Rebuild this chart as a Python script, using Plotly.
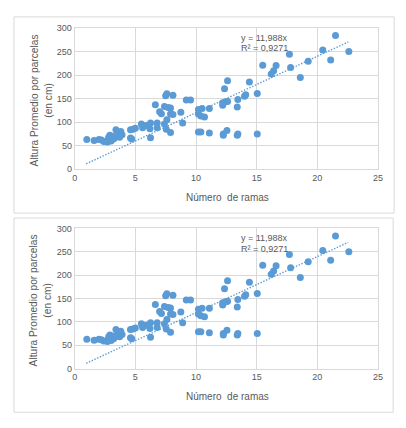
import plotly.graph_objs as go

# datos (numero de ramas vs altura promedio)
ramas = [1.0, 1.6, 2.0, 2.2, 2.4, 2.7, 2.8, 2.8, 2.9, 3.0, 3.0, 3.1, 3.2, 3.3,
         3.4, 3.5, 3.6, 3.7, 3.8, 3.9, 4.6, 4.7, 4.6, 4.8, 5.0, 5.5, 5.6, 5.9,
         6.2, 6.25, 6.25, 6.65, 6.8, 6.8, 7.0, 7.15, 7.4, 7.4, 7.5, 7.6, 7.6,
         7.55, 7.7, 7.9, 7.9, 7.9, 8.1, 8.1, 8.75, 8.9, 9.2, 9.55, 10.2, 10.2,
         10.2, 10.4, 10.4, 10.5, 10.7, 11.1, 11.1, 12.2, 12.2, 12.25, 12.25,
         12.35, 12.45, 12.55, 12.6, 12.6, 13.4, 13.4, 13.45, 13.45, 14.0, 14.1,
         14.4, 15.05, 15.05, 15.5, 16.2, 16.4, 16.6, 17.7, 17.8, 18.6, 19.25,
         20.45, 21.1, 21.5, 22.6]
altura = [63, 61, 63, 62, 59, 58, 63, 68, 72, 66, 60, 70, 64, 67,
          84, 72, 76, 68, 80, 73, 66, 64, 84, 85, 87, 96, 88, 93,
          86, 98, 67, 137, 98, 88, 122, 118, 133, 96, 156, 160, 105,
          85, 131, 130, 78, 117, 116, 157, 121, 98, 147, 147, 127, 117,
          79, 79, 113, 129, 111, 129, 77, 141, 136, 75, 72,
          171, 143, 82, 188, 144, 132, 72, 75, 148, 155, 158,
          185, 161, 75, 221, 202, 209, 220, 244, 216, 195, 229,
          253, 232, 284, 250]

pendiente = 11.988
ecuacion = 'y = 11,988x'
r2 = 'R² = 0,9271'
x_ticks = [0, 5, 10, 15, 20, 25]
y_ticks = [0, 50, 100, 150, 200, 250, 300]

# la pagina deja 8 px de margen en el body: se descuentan
OFF = 8
W, H = 406 - OFF, 428 - OFF
azul = '#5b9bd5'
gris = '#595959'
fuente = 'Liberation Sans'


def px(x):
    return (x - OFF) / W


def py(y):
    return 1 - (y - OFF) / H


fig = go.Figure()

# (caja del grafico, area de trazado) en pixeles de la ventana
paneles = [
    ((11, 12, 399, 213), (73, 23.3, 382.5, 168)),
    ((11, 218, 398, 417), (73, 228.7, 382.5, 372.3)),
]

x_linea = [min(ramas) - 0.05, max(ramas) - 0.05]
y_linea = [pendiente * v for v in x_linea]

shapes = []
annotations = []
for i, (caja, area) in enumerate(paneles):
    n = '' if i == 0 else str(i + 1)
    fig.add_trace(go.Scatter(
        x=x_linea, y=y_linea, mode='lines',
        line=dict(color=azul, width=1.4, dash='1.4px,1.6px'),
        xaxis='x' + n, yaxis='y' + n, showlegend=False, hoverinfo='skip',
    ))
    fig.add_trace(go.Scatter(
        x=ramas, y=altura, mode='markers',
        marker=dict(color=azul, size=7),
        xaxis='x' + n, yaxis='y' + n, showlegend=False,
    ))
    ejes = dict(
        showgrid=True, gridcolor='#d9d9d9', gridwidth=1,
        showline=True, linecolor='#d9d9d9', mirror=True,
        zeroline=False, ticks='',
        tickfont=dict(family=fuente, size=9, color=gris),
    )
    fig.layout['xaxis' + n] = dict(
        ejes, domain=[px(area[0]), px(area[2])], range=[0, 25],
        tickvals=x_ticks, anchor='y' + n,
    )
    fig.layout['yaxis' + n] = dict(
        ejes, domain=[py(area[3]), py(area[1])], range=[0, 300],
        tickvals=y_ticks, anchor='x' + n,
    )
    shapes.append(dict(
        type='rect', xref='paper', yref='paper',
        x0=px(caja[0]), x1=px(caja[2]), y0=py(caja[3]), y1=py(caja[1]),
        line=dict(color='#d9d9d9', width=1), layer='below',
    ))
    # titulos de ejes
    annotations.append(dict(
        text='Número  de ramas', showarrow=False,
        xref='paper', yref='paper', x=px(229), y=py(area[3] + 29),
        xanchor='center', yanchor='middle',
        font=dict(family=fuente, size=10, color=gris),
    ))
    annotations.append(dict(
        text='Altura Promedio por parcelas<br>(en cm)', showarrow=False,
        textangle=-90, xref='paper', yref='paper',
        x=px(38.5), y=py((area[1] + area[3]) / 2 + 2),
        xanchor='center', yanchor='middle', align='center',
        font=dict(family=fuente, size=10.2, color=gris),
    ))
    # ecuacion de la linea de tendencia
    annotations.append(dict(
        text=ecuacion, showarrow=False,
        xref='paper', yref='paper', x=px(241), y=py(area[1] + 10),
        xanchor='left', yanchor='middle',
        font=dict(family=fuente, size=9, color=gris),
    ))
    annotations.append(dict(
        text=r2, showarrow=False,
        xref='paper', yref='paper', x=px(241), y=py(area[1] + 21),
        xanchor='left', yanchor='middle',
        font=dict(family=fuente, size=9, color=gris),
    ))

fig.update_layout(
    width=W, height=H,
    margin=dict(l=0, r=0, t=0, b=0),
    paper_bgcolor='white', plot_bgcolor='white',
    shapes=shapes, annotations=annotations,
)

fig.write_html('out.html')
